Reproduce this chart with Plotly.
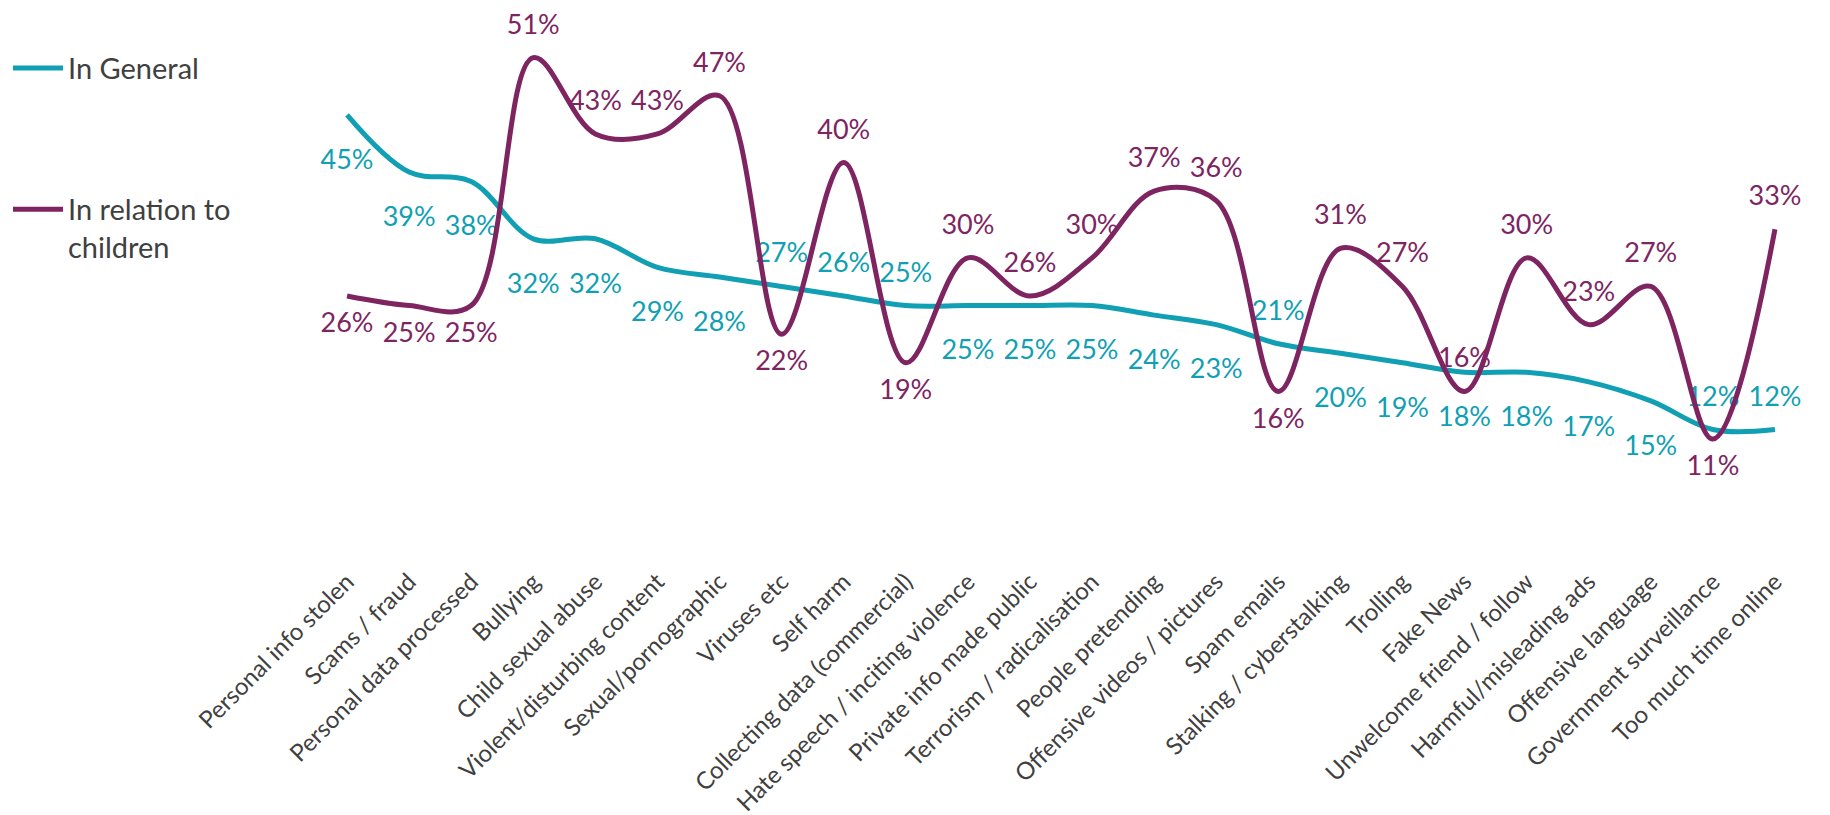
import plotly.graph_objects as go

categories = [
    "Personal info stolen", "Scams / fraud", "Personal data processed", "Bullying",
    "Child sexual abuse", "Violent/disturbing content", "Sexual/pornographic",
    "Viruses etc", "Self harm", "Collecting data (commercial)",
    "Hate speech / inciting violence", "Private info made public",
    "Terrorism / radicalisation", "People pretending", "Offensive videos / pictures",
    "Spam emails", "Stalking / cyberstalking", "Trolling", "Fake News",
    "Unwelcome friend / follow", "Harmful/misleading ads", "Offensive language",
    "Government surveillance", "Too much time online",
]
in_general = [45, 39, 38, 32, 32, 29, 28, 27, 26, 25, 25, 25, 25, 24, 23, 21, 20, 19, 18, 18, 17, 15, 12, 12]
in_children = [26, 25, 25, 51, 43, 43, 47, 22, 40, 19, 30, 26, 30, 37, 36, 16, 31, 27, 16, 30, 23, 27, 11, 33]

TEAL = "#109FB3"
PURPLE = "#7E2461"
GREY = "#404040"
FONT = "Lato"

# where Excel put each data label (T = above the point, B = below)
general_pos = list("BBBBBBBTTTBBBBBTBBBBBBTT")
children_pos = list("BBBTTTTBTBTTTTTBTTTTTTBT")

fig = go.Figure()

series = [
    ("In General", in_general, TEAL, general_pos, "legend", 52),
    ("In relation to<br>children", in_children, PURPLE, children_pos, "legend2", 24),
]
for name, vals, color, pos, leg, below_gap in series:
    fig.add_trace(go.Scatter(
        x=categories, y=vals, mode="lines", name=name, legend=leg,
        line=dict(color=color, width=5, shape="spline", smoothing=1),
        hoverinfo="skip",
    ))
    # data labels, one trace for those above and one for those below the line
    for side, where, gap in [("T", "top center", 26), ("B", "bottom center", below_gap)]:
        idx = [i for i, p in enumerate(pos) if p == side]
        fig.add_trace(go.Scatter(
            x=[categories[i] for i in idx], y=[vals[i] for i in idx],
            mode="markers+text", showlegend=False, cliponaxis=False,
            text=[f"{vals[i]}%" for i in idx], textposition=where,
            textfont=dict(family=FONT, size=27, color=color),
            marker=dict(size=gap, color="rgba(0,0,0,0)"),
            hoverinfo="skip",
        ))

fig.update_layout(
    width=1830, height=815,
    margin=dict(l=304, r=32, t=0, b=279),
    paper_bgcolor="white", plot_bgcolor="white",
    font=dict(family=FONT, color=GREY),
    legend=dict(x=-0.207, y=0.888, xanchor="left", yanchor="middle", itemwidth=50,
                font=dict(size=29, color=GREY), bgcolor="rgba(0,0,0,0)"),
    legend2=dict(x=-0.207, y=0.672, xanchor="left", yanchor="top", valign="top", itemwidth=50,
                 font=dict(size=29, color=GREY), bgcolor="rgba(0,0,0,0)"),
)
fig.update_xaxes(
    range=[-0.5, len(categories) - 0.5], showgrid=False, showline=False, zeroline=False,
    tickangle=-45, ticks="", ticklabelstandoff=18,
    tickfont=dict(family=FONT, size=24, color=GREY),
)
fig.update_yaxes(range=[0, 56.2], visible=False, showgrid=False)

fig.write_html("out.html")
